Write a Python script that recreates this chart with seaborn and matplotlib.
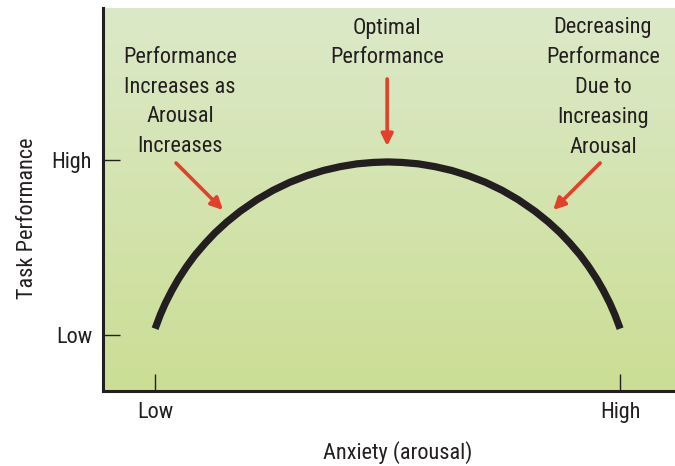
import numpy as np
import pandas as pd
import seaborn as sns
import matplotlib
matplotlib.use("Agg")
import matplotlib.pyplot as plt

# curve (Low = 0, High = 100 on both axes)
anxiety = [0, 1.1, 2.2, 3.6, 5.0, 6.8, 8.6, 10.8, 12.9, 15.4, 18.3, 21.9, 25.4,
           29.0, 32.6, 36.2, 39.8, 43.4, 46.9, 50.0, 53.1, 56.6, 60.2, 63.8,
           67.4, 71.0, 74.6, 78.1, 81.7, 84.6, 87.1, 89.2, 91.4, 93.2, 95.0,
           96.4, 97.8, 98.9, 100]
performance = [3.6, 11.4, 18.1, 25.4, 31.9, 39.2, 45.7, 52.5, 58.4, 64.5, 70.7,
               77.3, 82.7, 87.3, 91.0, 94.0, 96.2, 97.8, 98.6, 98.9, 98.6, 97.8,
               96.2, 94.0, 91.0, 87.3, 82.7, 77.3, 70.7, 64.5, 58.4, 52.5, 45.7,
               39.2, 31.9, 25.4, 18.1, 11.4, 3.6]

tick_values = [0, 100]
x_tick_labels = ["Low", "High"]
y_tick_labels = ["Low", "High"]

notes = [
    "Performance\nIncreases as\nArousal\nIncreases",
    "Optimal\nPerformance",
    "Decreasing\nPerformance\nDue to\nIncreasing\nArousal",
]

ink = "#231f20"
arrow_red = "#e2402b"

sns.set_style("ticks")
plt.rcParams["font.family"] = ["Roboto Condensed", "Roboto", "DejaVu Sans"]

df = pd.DataFrame({"anxiety": anxiety, "performance": performance})

fig = plt.figure(figsize=(6.75, 4.66), dpi=100)
ax = fig.add_axes([0.1526, 0.161, 0.8474, 0.822])

# soft green gradient behind the plot
grad = np.linspace(0, 1, 256).reshape(-1, 1)
cmap = matplotlib.colors.LinearSegmentedColormap.from_list("bg", ["#dce9c9", "#cbde94"])
ax.imshow(grad, cmap=cmap, aspect="auto", extent=[0, 1, 0, 1],
          transform=ax.transAxes, zorder=0, origin="upper")

sns.lineplot(data=df, x="anxiety", y="performance", ax=ax, sort=False,
             estimator=None, color=ink, linewidth=5.2, zorder=3,
             solid_joinstyle="round", solid_capstyle="butt")

ax.set_xlim(-11.2, 111.8)
ax.set_ylim(-32, 186.9)

ax.set_xticks(tick_values)
ax.set_xticklabels(x_tick_labels)
ax.set_yticks(tick_values)
ax.set_yticklabels(y_tick_labels)
ax.tick_params(direction="in", length=12, width=1.0, color=ink,
               labelsize=16, labelcolor=ink, pad=8)

ax.set_xlabel("Anxiety (arousal)", fontsize=16, color=ink)
ax.set_ylabel("Task Performance", fontsize=16, color=ink)
ax.xaxis.set_label_coords(0.516, -0.13)
ax.yaxis.set_label_coords(-0.114, 0.45)

for side in ["top", "right"]:
    ax.spines[side].set_visible(False)
for side in ["left", "bottom"]:
    ax.spines[side].set_color(ink)
    ax.spines[side].set_linewidth(2.2)

# annotations
text_kw = dict(ha="center", va="center", fontsize=16, color=ink,
               linespacing=1.55, zorder=4)
ax.text(5.4, 133.1, notes[0], **text_kw)
ax.text(49.9, 166.9, notes[1], **text_kw)
ax.text(96.3, 141.4, notes[2], **text_kw)

arrow_kw = dict(arrowstyle="-|>,head_length=0.7,head_width=0.35",
                color=arrow_red, lw=2.6, shrinkA=0, shrinkB=0)
ax.annotate("", xy=(14.6, 71.4), xytext=(4.5, 98.3), arrowprops=arrow_kw, zorder=4)
ax.annotate("", xy=(49.9, 108), xytext=(49.9, 146.3), arrowprops=arrow_kw, zorder=4)
ax.annotate("", xy=(85.6, 71.4), xytext=(95.7, 98.3), arrowprops=arrow_kw, zorder=4)

fig.savefig("out.png", dpi=100)
